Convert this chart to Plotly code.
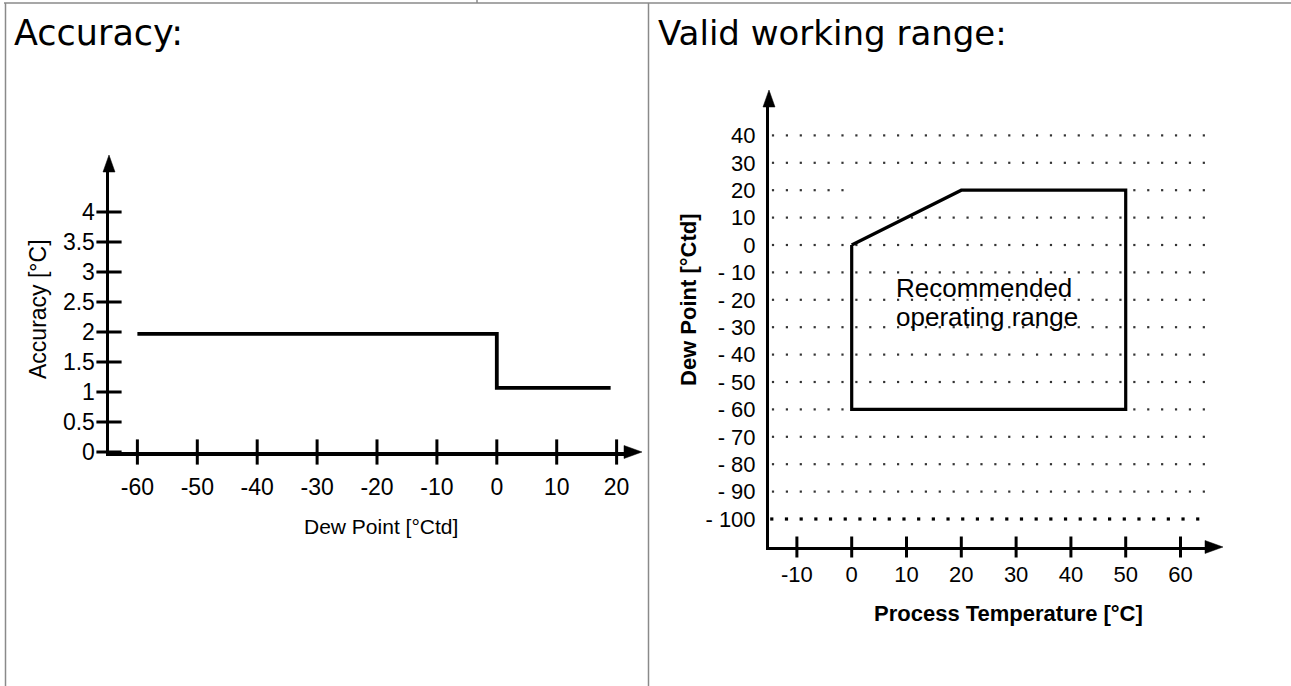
import plotly.graph_objects as go

W, H = 1291, 686

# ---------------- data: left chart (Accuracy) ----------------
dew_point = [-60, 0, 0, 19]
accuracy = [1.97, 1.97, 1.07, 1.07]
acc_xticks = [-60, -50, -40, -30, -20, -10, 0, 10, 20]
acc_xtext = ["-60", "-50", "-40", "-30", "-20", "-10", "0", "10", "20"]
acc_yticks = [0, 0.5, 1, 1.5, 2, 2.5, 3, 3.5, 4]
acc_ytext = ["0", "0.5", "1", "1.5", "2", "2.5", "3", "3.5", "4"]

# ---------------- data: right chart (Valid working range) ----------------
proc_temp = [0, 20, 50, 50, 0, 0]
dew_range = [0, 20, 20, -60, -60, 0]
rng_xticks = [-10, 0, 10, 20, 30, 40, 50, 60]
rng_xtext = ["-10", "0", "10", "20", "30", "40", "50", "60"]
rng_yticks = [40, 30, 20, 10, 0, -10, -20, -30, -40, -50, -60, -70, -80, -90, -100]
rng_ytext = ["40", "30", "20", "10", "0", "- 10", "- 20", "- 30", "- 40", "- 50",
             "- 60", "- 70", "- 80", "- 90", "- 100"]

# ---------------- layout geometry (pixels) ----------------
def fx(px):
    return px / W

def fy(py):
    return 1 - py / H

# left plot area
L_x0, L_x1, L_y0, L_y1 = 109, 625, 452, 170
L_xr = [-64.74, 21.4]
L_yr = [0, 4.7]
# right plot area
R_x0, R_x1, R_y0, R_y1 = 769, 1206, 547, 106
R_xr = [-15.09, 64.65]
R_yr = [-110.22, 50.73]

ARIAL = "Liberation Sans, Arial, sans-serif"
TITLE_FONT = "DejaVu Sans, Verdana, sans-serif"

fig = go.Figure()

# ---- left chart line
fig.add_trace(go.Scatter(x=dew_point, y=accuracy, mode="lines",
                         line=dict(color="black", width=3.8),
                         xaxis="x", yaxis="y", hoverinfo="skip"))
# crossing tick marks (left)
fig.add_trace(go.Scatter(x=acc_xticks, y=[L_yr[0]] * len(acc_xticks), mode="markers",
                         marker=dict(symbol="line-ns", size=18,
                                     line=dict(color="black", width=3)),
                         cliponaxis=False, xaxis="x", yaxis="y", hoverinfo="skip"))
fig.add_trace(go.Scatter(x=[L_xr[0]] * len(acc_yticks), y=acc_yticks, mode="markers",
                         marker=dict(symbol="line-ew", size=18,
                                     line=dict(color="black", width=3)),
                         cliponaxis=False, xaxis="x", yaxis="y", hoverinfo="skip"))

# ---- right chart dotted grid
dot_step = 2.536
dot_x = [-14.36 + i * dot_step for i in range(32)]
gx, gy = [], []
for yv in rng_yticks[:-1]:
    for xv in dot_x:
        if yv == 20 and -1 <= xv <= 51:
            continue
        gx.append(xv)
        gy.append(yv)
fig.add_trace(go.Scatter(x=gx, y=gy, mode="markers",
                         marker=dict(symbol="square", size=2.2, color="#333333"),
                         xaxis="x2", yaxis="y2", hoverinfo="skip"))
bold_x = [-14.58 + i * 2.68 for i in range(30)]
fig.add_trace(go.Scatter(x=bold_x, y=[-100] * len(bold_x), mode="markers",
                         marker=dict(symbol="square", size=3.2, color="black"),
                         xaxis="x2", yaxis="y2", hoverinfo="skip"))

# ---- right chart polygon
fig.add_trace(go.Scatter(x=proc_temp, y=dew_range, mode="lines",
                         line=dict(color="black", width=3.2),
                         xaxis="x2", yaxis="y2", hoverinfo="skip"))
# crossing tick marks (right x axis)
fig.add_trace(go.Scatter(x=rng_xticks, y=[R_yr[0]] * len(rng_xticks), mode="markers",
                         marker=dict(symbol="line-ns", size=15,
                                     line=dict(color="black", width=3)),
                         cliponaxis=False, xaxis="x2", yaxis="y2", hoverinfo="skip"))

axis_common = dict(showline=True, linecolor="black", showgrid=False, zeroline=False,
                   ticks="outside", tickcolor="rgba(0,0,0,0)", fixedrange=True,
                   tickmode="array", automargin=False)

fig.update_layout(
    width=W, height=H, autosize=False,
    margin=dict(l=0, r=0, t=0, b=0, pad=0, autoexpand=False),
    paper_bgcolor="white", plot_bgcolor="white",
    showlegend=False,
    xaxis=dict(axis_common, domain=[fx(L_x0), fx(L_x1)], range=L_xr, anchor="y",
               linewidth=3.5, tickvals=acc_xticks, ticktext=acc_xtext, ticklen=12,
               tickfont=dict(family=ARIAL, size=23, color="black")),
    yaxis=dict(axis_common, domain=[fy(L_y0), fy(L_y1)], range=L_yr, anchor="x",
               linewidth=3.5, tickvals=acc_yticks, ticktext=acc_ytext, ticklen=6,
               tickfont=dict(family=ARIAL, size=23, color="black")),
    xaxis2=dict(axis_common, domain=[fx(R_x0), fx(R_x1)], range=R_xr, anchor="y2",
                linewidth=3, tickvals=rng_xticks, ticktext=rng_xtext, ticklen=6,
                tickfont=dict(family=ARIAL, size=22, color="black")),
    yaxis2=dict(axis_common, domain=[fy(R_y0), fy(R_y1)], range=R_yr, anchor="x2",
                linewidth=3, tickvals=rng_yticks, ticktext=rng_ytext, ticklen=6,
                tickfont=dict(family=ARIAL, size=22, color="black")),
)

# ---- arrowheads on the axis ends
def tri(pts):
    p = "M" + " L".join(f"{fx(x):.5f},{fy(y):.5f}" for x, y in pts) + " Z"
    return dict(type="path", path=p, xref="paper", yref="paper",
                fillcolor="black", line=dict(color="black", width=0.5), layer="above")

shapes = [
    tri([(L_x0 - 6, L_y1 + 2), (L_x0 + 6, L_y1 + 2), (L_x0, L_y1 - 15)]),
    tri([(L_x1 - 1, L_y0 - 6.5), (L_x1 - 1, L_y0 + 6.5), (L_x1 + 17, L_y0)]),
    tri([(R_x0 - 6, R_y1 + 1), (R_x0 + 6, R_y1 + 1), (R_x0, R_y1 - 16)]),
    tri([(R_x1 - 1, R_y0 - 6.5), (R_x1 - 1, R_y0 + 6.5), (R_x1 + 17, R_y0)]),
]

# ---- table borders
border = dict(color="#8a8a8a", width=1.5)
shapes += [
    dict(type="line", xref="paper", yref="paper", x0=fx(4), x1=1, y0=fy(3), y1=fy(3), line=border),
    dict(type="line", xref="paper", yref="paper", x0=fx(5.5), x1=fx(5.5), y0=fy(3), y1=0, line=border),
    dict(type="line", xref="paper", yref="paper", x0=fx(648.5), x1=fx(648.5), y0=fy(3), y1=0, line=border),
    dict(type="line", xref="paper", yref="paper", x0=fx(477), x1=fx(477), y0=1, y1=fy(3), line=border),
]
fig.update_layout(shapes=shapes)

# ---- texts
def ann(text, x, y, size, family=ARIAL, xanchor="center", yanchor="middle",
        angle=0, weight="normal", xref="paper", yref="paper"):
    fig.add_annotation(text=text, x=x, y=y, xref=xref, yref=yref, showarrow=False,
                       xanchor=xanchor, yanchor=yanchor, textangle=angle,
                       font=dict(family=family, size=size, color="black", weight=weight))

ann("Accuracy:", fx(12), fy(33), 35, family=TITLE_FONT, xanchor="left")
ann("Valid working range:", fx(656), fy(33), 34, family=TITLE_FONT, xanchor="left")

ann("Dew Point [°Ctd]", fx(381), fy(526), 21)
ann("Accuracy [°C]", fx(38), fy(309), 23, angle=-90)

ann("Process Temperature [°C]", fx(1008), fy(613), 22, weight="bold")
ann("Dew Point [°Ctd]", fx(688), fy(300), 22, angle=-90, weight="bold")

ann("Recommended", 7.7, -15.7, 26, xanchor="left", xref="x2", yref="y2")
ann("operating range", 7.7, -26.3, 26, xanchor="left", xref="x2", yref="y2")

post = (
    "document.documentElement.style.margin='0';"
    "document.documentElement.style.overflow='hidden';"
    "document.body.style.margin='0';"
    "document.body.style.overflow='hidden';"
)

fig.write_html("out.html", include_plotlyjs=True, full_html=True,
               config=dict(displayModeBar=False, staticPlot=True),
               post_script=post)
